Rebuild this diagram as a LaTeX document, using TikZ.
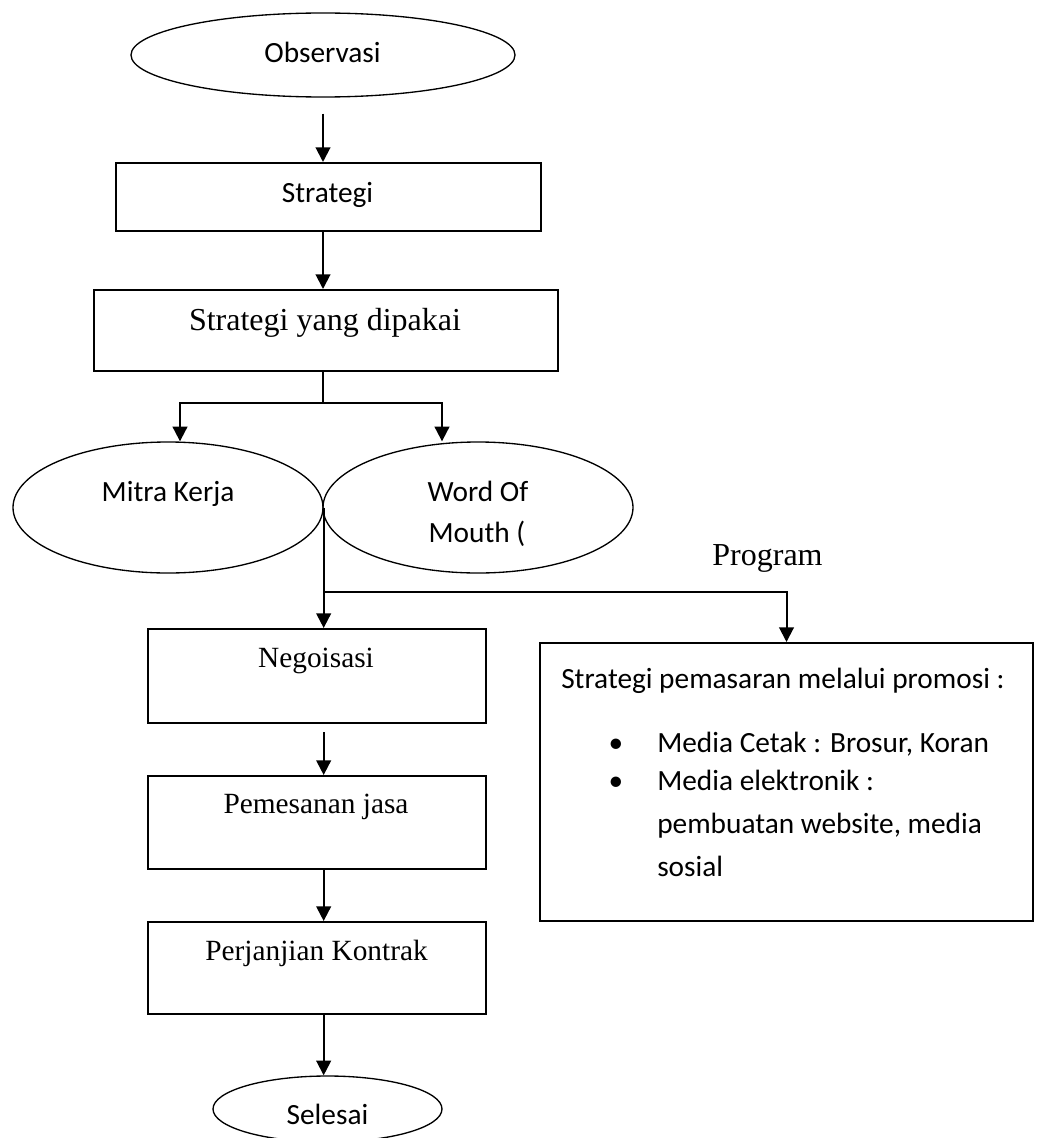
\documentclass[tikz,border=0pt]{standalone}
\usepackage{fontspec}
\setmainfont{Liberation Serif}
\newfontfamily\calibri{Carlito}
\usetikzlibrary{shapes.geometric,arrows.meta}

\begin{document}
\begin{tikzpicture}[x=0.75pt,y=-0.75pt,
    box/.style={draw=black,line width=1.5pt,inner sep=0pt},
    oval/.style={draw=black,ellipse,line width=1pt,inner sep=0pt},
    sans/.style={inner sep=0pt,font=\calibri\fontsize{22}{26}\selectfont},
    serif/.style={inner sep=0pt,font=\fontsize{22}{26}\selectfont},
    bigserif/.style={inner sep=0pt,font=\fontsize{24}{28}\selectfont},
    arr/.style={line width=1.5pt,-{Triangle[width=11pt,length=11pt]}},
    link/.style={line width=1.2pt}]
        \useasboundingbox (0,0) rectangle (1040,1138);

        % Start
        \node[oval,minimum width=288pt,minimum height=63pt] (obs) at (323,55) {};
        \node[sans,anchor=base] (obslbl) at (322.5,63) {Observasi};

        % Strategy boxes
        \node[box,minimum width=318.75pt,minimum height=51pt] (strat) at (328.5,197) {};
        \node[sans,anchor=base] (stratlbl) at (327.5,202) {Strategi};
        \node[box,minimum width=348pt,minimum height=60.75pt] (used) at (326,330.5) {};
        \node[bigserif,anchor=base] (usedlbl) at (325,330) {Strategi yang dipakai};

        % The two strategies
        \node[oval,minimum width=232.5pt,minimum height=98.25pt] (mitra) at (168,507.5) {};
        \node[sans,anchor=base] (mitralbl) at (168,501) {Mitra Kerja};
        \node[oval,minimum width=232.5pt,minimum height=98.25pt] (wom) at (478,507.5) {};
        \node[sans,anchor=base] (womlbla) at (478,501) {Word Of};
        \node[sans,anchor=base] (womlblb) at (477,542) {Mouth (};

        % Program
        \node[bigserif,anchor=base] (prog) at (767.5,565) {Program};
        \node[box,minimum width=369.75pt,minimum height=208.5pt] (promo) at (786.5,782) {};
        \node[sans,anchor=base west] (promohead) at (561,688) {Strategi pemasaran melalui promosi :};
        \node[sans,anchor=base] (bula) at (616,752) {\textbullet};
        \node[sans,anchor=base west] (itema) at (657,752) {Media Cetak : Brosur, Koran};
        \node[sans,anchor=base] (bulb) at (616,790) {\textbullet};
        \node[sans,anchor=base west] (itemb) at (657,790) {Media elektronik :};
        \node[sans,anchor=base west] (itembb) at (657,833) {pembuatan website, media};
        \node[sans,anchor=base west] (itembc) at (657,876) {sosial};

        % Steps
        \node[box,minimum width=253.5pt,minimum height=70.5pt] (nego) at (317,676) {};
        \node[serif,anchor=base] (negolbl) at (316,667) {Negoisasi};
        \node[box,minimum width=253.5pt,minimum height=69.75pt] (pesan) at (317,822.5) {};
        \node[serif,anchor=base] (pesanlbl) at (316,813) {Pemesanan jasa};
        \node[box,minimum width=253.5pt,minimum height=69pt] (kontrak) at (317,968) {};
        \node[serif,anchor=base] (kontraklbl) at (316.5,960) {Perjanjian Kontrak};

        % End
        \node[oval,minimum width=171.75pt,minimum height=49.5pt] (done) at (327.5,1109) {};
        \node[sans,anchor=base] (donelbl) at (327.5,1124) {Selesai};

        % Split points
        \coordinate (split) at (323,403);
        \coordinate (splitb) at (323,592);

        % Arrows
        \draw[arr,shorten <=12pt] (obs.south) -- (obs.south |- strat.north);
        \draw[arr] (strat.south -| obs) -- (used.north -| obs);
        \draw[link] (used.south -| obs) -- (split);
        \draw[arr] (split) -| ([xshift=9pt]mitra.north);
        \draw[arr] (split) -| ([xshift=-27pt]wom.north);
        \draw[arr] (mitra.east) -- (mitra.east |- nego.north);
        \draw[arr] (splitb) -| (promo.north);
        \draw[arr,shorten <=6pt] (nego.south -| mitra.east) -- (pesan.north -| mitra.east);
        \draw[arr] (pesan.south -| mitra.east) -- (kontrak.north -| mitra.east);
        \draw[arr] (kontrak.south -| mitra.east) -- (done.north -| mitra.east);
\end{tikzpicture}
\end{document}
